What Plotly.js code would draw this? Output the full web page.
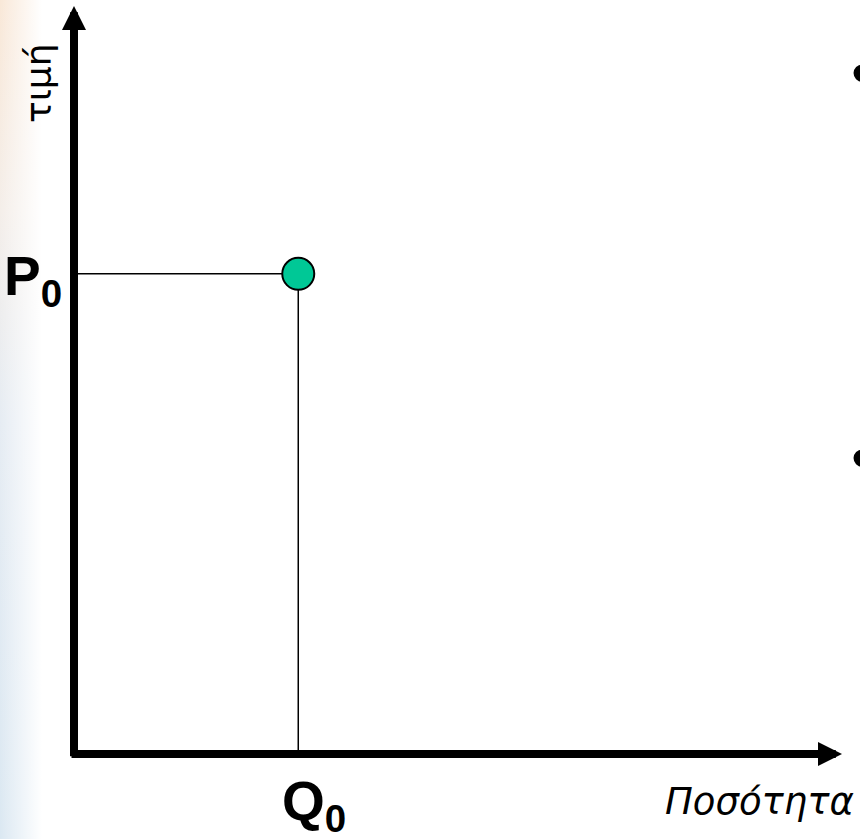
<!DOCTYPE html>
<html>
<head>
<meta charset="utf-8">
<script src="https://cdn.plot.ly/plotly-3.0.1.min.js"></script>
<style>
  html, body { margin:0; padding:0; }
  body {
    width:860px; height:839px; overflow:hidden;
    background:
      linear-gradient(to right, rgba(255,255,255,0) 0px, rgba(255,255,255,0.2) 8px, #ffffff 42px),
      linear-gradient(to bottom, #f9e8d8 0%, #f4eee9 25%, #e6ecf3 50%, #dbe8f2 100%);
  }
  #chart { width:860px; height:839px; }
</style>
</head>
<body>
<div id="chart"></div>
<script>
// Data (axis units 0..100)
const quantity = [29.2];        // Q0
const price = [64.2];           // P0
const pointLabels = ['Q<sub>0</sub>', 'P<sub>0</sub>'];
const axisTitles = ['Ποσότητα', 'τιμή'];
const bullets = ['•', '•'];

const Q0 = quantity[0], P0 = price[0];

const guides = {
  x: [0, Q0, Q0],
  y: [P0, P0, 0],
  mode: 'lines',
  line: {color: '#000', width: 1.5},
  hoverinfo: 'skip',
  showlegend: false,
  cliponaxis: false
};
const point = {
  x: quantity,
  y: price,
  mode: 'markers',
  marker: {size: 32, color: '#00c896', line: {color: '#000', width: 2}},
  showlegend: false,
  cliponaxis: false
};

const layout = {
  width: 860, height: 839,
  margin: {l: 74, r: 18, t: 6, b: 85},
  paper_bgcolor: 'rgba(0,0,0,0)',
  plot_bgcolor: 'rgba(0,0,0,0)',
  xaxis: {range: [0, 100], visible: false, fixedrange: true},
  yaxis: {range: [0, 100], visible: false, fixedrange: true},
  showlegend: false,
  annotations: [
    // vertical axis arrow
    {x: 0, y: 100, ax: 0, ay: -0.5, xref: 'x', yref: 'y', axref: 'x', ayref: 'y',
     text: '', showarrow: true, arrowhead: 2, arrowsize: 0.6, arrowwidth: 8, arrowcolor: '#000'},
    // horizontal axis arrow
    {x: 100, y: 0, ax: -0.52, ay: 0, xref: 'x', yref: 'y', axref: 'x', ayref: 'y',
     text: '', showarrow: true, arrowhead: 2, arrowsize: 0.6, arrowwidth: 8, arrowcolor: '#000'},
    // P0
    {x: 0, y: P0, xref: 'x', yref: 'y', xanchor: 'right', yanchor: 'middle', xshift: -10, yshift: -6,
     text: '<b>' + pointLabels[1] + '</b>', showarrow: false,
     font: {family: 'Liberation Sans, Arial', size: 55, color: '#000'}},
    // Q0
    {x: Q0, y: 0, xref: 'x', yref: 'y', xanchor: 'center', yanchor: 'top', xshift: 16, yshift: -14,
     text: '<b>' + pointLabels[0] + '</b>', showarrow: false,
     font: {family: 'Liberation Sans, Arial', size: 55, color: '#000'}},
    // x title
    {x: 1, y: 0, xref: 'paper', yref: 'y', showarrow: false,
     text: axisTitles[0], xanchor: 'right', yanchor: 'top', yshift: -24,
     font: {family: 'DejaVu Sans', size: 37, style: 'italic', color: '#000'}},
    // y title
    {x: 0, y: 100, xref: 'x', yref: 'y', showarrow: false, textangle: -90,
     text: axisTitles[1], xanchor: 'center', yanchor: 'middle', xshift: -36, yshift: -77,
     font: {family: 'DejaVu Sans', size: 36, color: '#000'}},
    // bullets at right edge
    {x: 1, y: 1, xref: 'paper', yref: 'paper', showarrow: false, text: bullets[0],
     xanchor: 'center', yanchor: 'middle', xshift: 20, yshift: -67,
     font: {family: 'Liberation Sans, Arial', size: 64, color: '#000'}},
    {x: 1, y: 1, xref: 'paper', yref: 'paper', showarrow: false, text: bullets[1],
     xanchor: 'center', yanchor: 'middle', xshift: 20, yshift: -452,
     font: {family: 'Liberation Sans, Arial', size: 64, color: '#000'}}
  ]
};
// x title right edge at ~856 px
layout.annotations[4].x = (856 - 74) / 768;

Plotly.newPlot('chart', [guides, point], layout, {staticPlot: true, displayModeBar: false});
</script>
</body>
</html>
